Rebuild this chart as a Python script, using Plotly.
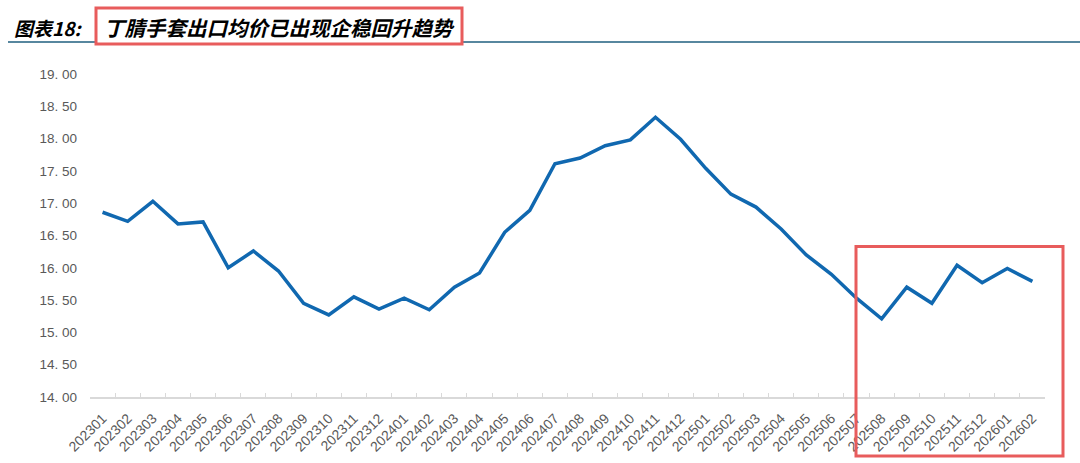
import plotly.graph_objects as go

months = ["202301","202302","202303","202304","202305","202306","202307","202308","202309","202310","202311","202312",
          "202401","202402","202403","202404","202405","202406","202407","202408","202409","202410","202411","202412",
          "202501","202502","202503","202504","202505","202506","202507","202508","202509","202510","202511","202512",
          "202601","202602"]
price = [16.86,16.72,17.03,16.68,16.71,16.00,16.26,15.95,15.45,15.27,15.55,15.36,
         15.53,15.35,15.70,15.92,16.55,16.89,17.61,17.70,17.89,17.98,18.33,17.99,
         17.54,17.14,16.94,16.60,16.20,15.90,15.53,15.21,15.70,15.45,16.04,15.77,
         15.99,15.79]
y_ticks = [14.0,14.5,15.0,15.5,16.0,16.5,17.0,17.5,18.0,18.5,19.0]
y_tick_text = [f"{v:.2f}".replace(".", ". ") for v in y_ticks]
title_prefix = "图表18:"
title_main = "丁腈手套出口均价已出现企稳回升趋势"

W, H = 1080, 463
L, R, T, B = 90, 35, 74, 66
pw, ph = W - L - R, H - T - B

def px_x(px):
    return (px - L) / pw

def px_y(py):
    return (H - B - py) / ph

fig = go.Figure()
fig.add_trace(go.Scatter(x=months, y=price, mode="lines",
                         line=dict(color="#1068B0", width=3.5), hoverinfo="x+y"))

fig.update_layout(
    width=W, height=H, margin=dict(l=L, r=R, t=T, b=B, autoexpand=False),
    paper_bgcolor="white", plot_bgcolor="white", showlegend=False,
    font=dict(family="Liberation Sans, Arial, sans-serif", color="#595959"),
    xaxis=dict(type="category", tickangle=-45, tickfont=dict(size=14, color="#595959"),
               showgrid=False, zeroline=False, showline=True, linecolor="#D9D9D9", linewidth=1.5,
               ticks="inside", tickson="boundaries", ticklen=4, tickcolor="#D9D9D9",
               range=[-0.5, len(months) - 0.5], automargin=False, ticklabelstandoff=6),
    yaxis=dict(range=[14, 19], tickvals=y_ticks, ticktext=y_tick_text,
               tickfont=dict(size=13.5, color="#595959"), showgrid=False, zeroline=False,
               showline=False, ticks="", ticklabelstandoff=12, automargin=False),
)

# title underline
fig.add_shape(type="line", xref="paper", yref="paper", x0=px_x(8), x1=px_x(1080), y0=px_y(42), y1=px_y(42),
              line=dict(color="#1F5F7F", width=1.5))
# title red box
fig.add_shape(type="rect", xref="paper", yref="paper", x0=px_x(96), x1=px_x(462), y0=px_y(44), y1=px_y(8),
              line=dict(color="#E85C5C", width=3), fillcolor="white", layer="above")
# chart red box
fig.add_shape(type="rect", xref="paper", yref="paper", x0=px_x(856), x1=px_x(1063), y0=px_y(456), y1=px_y(246.5),
              line=dict(color="#E85C5C", width=3), layer="above")

fig.add_annotation(xref="paper", yref="paper", x=px_x(12), y=px_y(27), xanchor="left", yanchor="middle",
                   text=f"<b><i>{title_prefix}</i></b>", showarrow=False,
                   font=dict(family="Noto Sans CJK SC, sans-serif", size=19, color="black"))
fig.add_annotation(xref="paper", yref="paper", x=px_x(279), y=px_y(27), xanchor="center", yanchor="middle",
                   text=f"<b><i>{title_main}</i></b>", showarrow=False,
                   font=dict(family="Noto Sans CJK SC, sans-serif", size=20.5, color="black"))

fig.write_html("out.html", config={"displayModeBar": False},
               post_script="document.body.style.margin='0';document.body.style.overflow='hidden';")
